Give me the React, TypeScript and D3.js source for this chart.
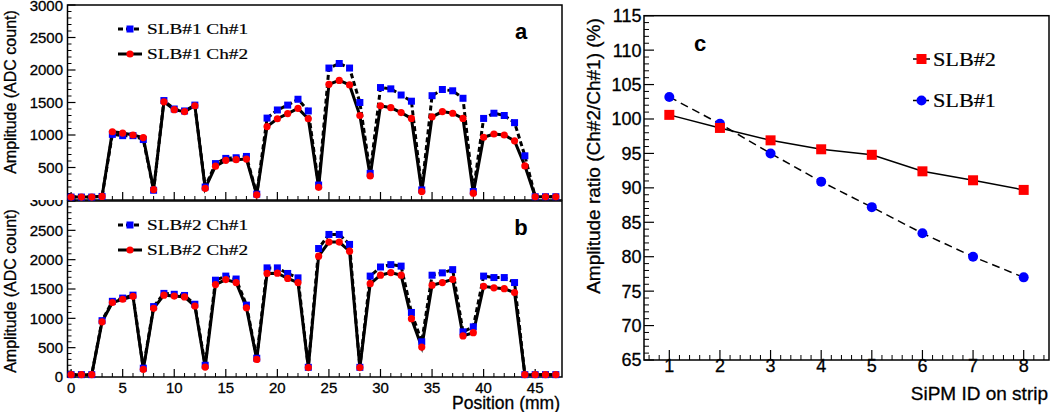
import React from 'react';
import * as d3 from 'd3';

// ---------- data ----------
const positionsMm = [0,1,2,3,4,5,6,7,8,9,10,11,12,13,14,15,16,17,18,19,20,21,22,23,24,25,26,27,28,29,30,31,32,33,34,35,36,37,38,39,40,41,42,43,44,45,46,47];

const slb1Ch1 = [45,45,45,55,1010,990,990,930,150,1530,1400,1370,1460,200,560,640,650,670,90,1260,1385,1460,1550,1370,230,2030,2100,2030,1500,410,1730,1710,1615,1520,155,1605,1700,1680,1565,130,1255,1335,1300,1190,680,50,50,50];
const slb1Ch2 = [45,45,45,55,1050,1030,1000,960,160,1510,1390,1360,1450,180,520,610,620,630,80,1130,1250,1330,1410,1250,195,1780,1840,1770,1300,370,1450,1420,1345,1255,130,1280,1360,1335,1255,105,965,1015,1000,910,525,50,50,50];

const slb2Ch1 = [40,40,40,960,1290,1345,1395,150,1200,1425,1410,1390,1240,200,1650,1720,1670,1225,320,1860,1860,1765,1690,165,2190,2430,2430,2260,165,1720,1875,1915,1890,1100,600,1735,1775,1830,770,855,1720,1695,1695,1610,40,40,40,40];
const slb2Ch2 = [40,40,40,940,1270,1325,1375,130,1170,1395,1380,1365,1210,170,1575,1660,1610,1180,300,1765,1770,1680,1610,160,2060,2300,2300,2145,160,1590,1735,1780,1735,995,510,1565,1610,1665,700,755,1545,1520,1505,1440,40,40,40,40];

const sipmIds = [1,2,3,4,5,6,7,8];
const ratioSlb2 = [100.6,98.7,96.9,95.6,94.8,92.4,91.1,89.7];
const ratioSlb1 = [103.2,99.3,95.0,90.9,87.2,83.4,80.0,77.0];

const ampTicks = [0,500,1000,1500,2000,2500,3000];
const posTicks = [0,5,10,15,20,25,30,35,40,45];
const ratioTicks = [65,70,75,80,85,90,95,100,105,110,115];
const idTicks = [1,2,3,4,5,6,7,8];

const SANS = '"Liberation Sans", Arial, sans-serif';
const SERIF = '"Liberation Serif", "Times New Roman", serif';
const TXT = { fill: '#000', stroke: '#000', strokeWidth: 0.3 };

const xPos = d3.scaleLinear().domain([-0.35, 47.6]).range([67.5, 562]);

type AmpProps = {
  y0: number; y1: number;
  ch1: number[]; ch2: number[];
  names: [string, string];
  letter: string;
  tickVals: number[];
  showXLabels: boolean;
  legendY: [number, number];
  titleY: number;
  bg?: boolean;
};

function AmpPanel(p: AmpProps) {
  const y = d3.scaleLinear().domain([0, 3000]).range([p.y1, p.y0]);
  const [xl, xr] = xPos.range();
  const line = d3.line<number>().x((_, i) => xPos(positionsMm[i])).y(d => y(d));
  const minorY = d3.range(0, 3001, 100).filter(v => v % 500 !== 0);
  const minorX = d3.range(0, 48, 1).filter(v => v % 5 !== 0);
  return (
    <g>
      {p.bg && <rect x={0} y={0} width={565} height={p.y1} fill="#fff" />}
      <rect x={xl} y={p.y0} width={xr - xl} height={p.y1 - p.y0} fill="none" stroke="#000" strokeWidth={1.5} />
      {ampTicks.map(v => <line key={'M' + v} x1={xl} x2={xl + 8} y1={y(v)} y2={y(v)} stroke="#000" strokeWidth={1.2} />)}
      {minorY.map(v => <line key={'m' + v} x1={xl} x2={xl + 4} y1={y(v)} y2={y(v)} stroke="#000" strokeWidth={1} />)}
      {posTicks.map(v => <line key={'X' + v} x1={xPos(v)} x2={xPos(v)} y1={p.y1} y2={p.y1 - 8} stroke="#000" strokeWidth={1.2} />)}
      {minorX.map(v => <line key={'x' + v} x1={xPos(v)} x2={xPos(v)} y1={p.y1} y2={p.y1 - 4} stroke="#000" strokeWidth={1} />)}
      {p.tickVals.map(v => (
        <text key={'t' + v} x={63} y={Math.max(y(v), 6)} dy="0.36em" textAnchor="end" fontFamily={SANS} fontSize={15} {...TXT}>{v}</text>
      ))}
      {p.showXLabels && posTicks.map(v => (
        <text key={'xl' + v} x={xPos(v)} y={393} textAnchor="middle" fontFamily={SANS} fontSize={15} {...TXT}>{v}</text>
      ))}
      <text transform={`translate(15.5,${p.titleY}) rotate(-90)`} textAnchor="middle" fontFamily={SANS} fontSize={16} {...TXT}>Amplitude (ADC count)</text>
      <path d={line(p.ch1) || ''} fill="none" stroke="#000" strokeWidth={3} strokeDasharray="5,3" />
      <path d={line(p.ch2) || ''} fill="none" stroke="#000" strokeWidth={3} />
      {p.ch1.map((v, i) => <rect key={'b' + i} x={xPos(positionsMm[i]) - 3.5} y={y(v) - 3.5} width={7} height={7} fill="#0000ff" />)}
      {p.ch2.map((v, i) => <circle key={'r' + i} cx={xPos(positionsMm[i])} cy={y(v)} r={3.6} fill="#ff0000" />)}
      {/* legend */}
      <line x1={118} x2={142} y1={p.legendY[0]} y2={p.legendY[0]} stroke="#000" strokeWidth={3} strokeDasharray="5,3" />
      <rect x={126.5} y={p.legendY[0] - 3.5} width={7} height={7} fill="#0000ff" />
      <text x={147} y={p.legendY[0] + 5} fontFamily={SERIF} fontSize={15.5} textLength={101} lengthAdjust="spacingAndGlyphs" {...TXT} strokeWidth={0.2}>{p.names[0]}</text>
      <line x1={118} x2={142} y1={p.legendY[1]} y2={p.legendY[1]} stroke="#000" strokeWidth={3} />
      <circle cx={130} cy={p.legendY[1]} r={3.6} fill="#ff0000" />
      <text x={147} y={p.legendY[1] + 5} fontFamily={SERIF} fontSize={15.5} textLength={101} lengthAdjust="spacingAndGlyphs" {...TXT} strokeWidth={0.2}>{p.names[1]}</text>
      <text x={521} y={p.legendY[0] + 10} textAnchor="middle" fontFamily={SANS} fontWeight="bold" fontSize={22} fill="#000">{p.letter}</text>
    </g>
  );
}

function RatioPanel() {
  const x = d3.scaleLinear().domain([0.5, 8.5]).range([644, 1049]);
  const y = d3.scaleLinear().domain([65, 115]).range([360, 15.7]);
  const line = d3.line<number>().x((_, i) => x(sipmIds[i])).y(d => y(d));
  const minorY = d3.range(65, 115.01, 1).filter(v => v % 5 !== 0);
  const minorX = d3.range(0.6, 8.5, 0.2).filter(v => Math.abs(v - Math.round(v)) > 0.05);
  const [xl, xr] = x.range();
  const [yb, yt] = y.range();
  return (
    <g>
      <rect x={xl} y={yt} width={xr - xl} height={yb - yt} fill="none" stroke="#000" strokeWidth={1.5} />
      {ratioTicks.map(v => <line key={'M' + v} x1={xl} x2={xl + 10} y1={y(v)} y2={y(v)} stroke="#000" strokeWidth={1.2} />)}
      {minorY.map(v => <line key={'m' + v} x1={xl} x2={xl + 5} y1={y(v)} y2={y(v)} stroke="#000" strokeWidth={1} />)}
      {idTicks.map(v => <line key={'X' + v} x1={x(v)} x2={x(v)} y1={yb} y2={yb - 10} stroke="#000" strokeWidth={1.2} />)}
      {minorX.map((v, i) => <line key={'x' + i} x1={x(v)} x2={x(v)} y1={yb} y2={yb - 5} stroke="#000" strokeWidth={1} />)}
      {ratioTicks.map(v => (
        <text key={'t' + v} x={641.5} y={y(v)} dy="0.36em" textAnchor="end" fontFamily={SANS} fontSize={18} {...TXT}>{v}</text>
      ))}
      {idTicks.map(v => (
        <text key={'xl' + v} x={x(v)} y={372} textAnchor="middle" fontFamily={SANS} fontSize={18} {...TXT}>{v}</text>
      ))}
      <text x={1048} y={400} textAnchor="end" fontFamily={SANS} fontSize={19} {...TXT}>SiPM ID on strip</text>
      <text transform="translate(600,156) rotate(-90)" textAnchor="middle" fontFamily={SANS} fontSize={19} {...TXT}>Amplitude ratio (Ch#2/Ch#1) (%)</text>
      <path d={line(ratioSlb1) || ''} fill="none" stroke="#000" strokeWidth={1.5} strokeDasharray="8,5" />
      <path d={line(ratioSlb2) || ''} fill="none" stroke="#000" strokeWidth={1.5} />
      {ratioSlb1.map((v, i) => <circle key={'b' + i} cx={x(sipmIds[i])} cy={y(v)} r={5} fill="#0000ff" />)}
      {ratioSlb2.map((v, i) => <rect key={'r' + i} x={x(sipmIds[i]) - 5} y={y(v) - 5} width={10} height={10} fill="#ff0000" />)}
      <text x={700} y={51} textAnchor="middle" fontFamily={SANS} fontWeight="bold" fontSize={22} fill="#000">c</text>
      {/* legend */}
      <line x1={913} x2={930} y1={59} y2={59} stroke="#000" strokeWidth={1.5} />
      <rect x={916.5} y={54} width={10} height={10} fill="#ff0000" />
      <text x={933} y={65.5} fontFamily={SERIF} fontSize={19} textLength={63} lengthAdjust="spacingAndGlyphs" {...TXT} strokeWidth={0.2}>SLB#2</text>
      <line x1={913} x2={930} y1={100.5} y2={100.5} stroke="#000" strokeWidth={1.5} strokeDasharray="4,2" />
      <circle cx={921.5} cy={100.5} r={5} fill="#0000ff" />
      <text x={933} y={107} fontFamily={SERIF} fontSize={19} textLength={63} lengthAdjust="spacingAndGlyphs" {...TXT} strokeWidth={0.2}>SLB#1</text>
    </g>
  );
}

export default function App() {
  return (
    <svg width={1050} height={412} style={{ position: 'absolute', left: 0, top: 0, background: '#fff' }}>
      <rect x={0} y={0} width={1050} height={412} fill="#fff" />
      <AmpPanel y0={201} y1={377} ch1={slb2Ch1} ch2={slb2Ch2} names={['SLB#2 Ch#1', 'SLB#2 Ch#2']} letter="b"
        tickVals={ampTicks} showXLabels={true} legendY={[225, 250]} titleY={291} />
      <AmpPanel y0={5} y1={200} ch1={slb1Ch1} ch2={slb1Ch2} names={['SLB#1 Ch#1', 'SLB#1 Ch#2']} letter="a"
        tickVals={ampTicks.filter(v => v > 0)} showXLabels={false} legendY={[29, 54]} titleY={92} bg={true} />
      <text x={560} y={408.5} textAnchor="end" fontFamily={SANS} fontSize={17.5} {...TXT}>Position (mm)</text>
      <RatioPanel />
    </svg>
  );
}
